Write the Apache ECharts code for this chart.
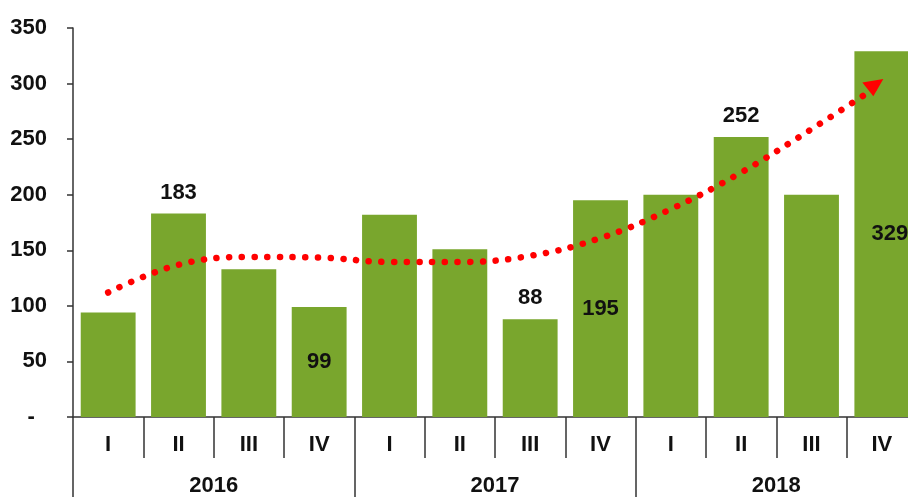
<!DOCTYPE html>
<html>
<head>
<meta charset="utf-8">
<script src="https://cdn.jsdelivr.net/npm/echarts@6/dist/echarts.min.js"></script>
<style>
  html, body { margin: 0; padding: 0; background: #fff; overflow: hidden; }
  #chart { width: 917px; height: 497px; }
</style>
</head>
<body>
<div id="chart"></div>
<script>
// data
var quarters = ['I', 'II', 'III', 'IV', 'I', 'II', 'III', 'IV', 'I', 'II', 'III', 'IV'];
var years = ['2016', '2017', '2018'];
var sales = [94, 183, 133, 99, 182, 151, 88, 195, 200, 252, 200, 329];
var trend = [112, 137, 144, 143.5, 139.5, 139.5, 145, 161, 187, 220, 259, 300];
var yMax = 350;
var yStep = 50;

// which bars carry a value label, and where
var labelAbove = [1, 6, 9];
var labelInside = [3, 7, 11];

var font = "'Liberation Sans', Arial, sans-serif";
var axisColor = '#333';

var barData = sales.map(function(v, i) {
  var item = { value: v };
  if (labelAbove.indexOf(i) >= 0) {
    item.label = { show: true, position: 'top', distance: 10 };
  } else if (labelInside.indexOf(i) >= 0) {
    item.label = { show: true, position: 'inside', offset: i === 11 ? [8, 0] : [0, 0] };
  }
  return item;
});

// arrow head at the end of the trend line (points down, as in the original)
var arrowHead = 'path://M0,4 L21,0 L11,19 Z';

var trendData = trend.map(function(v, i) {
  if (i === trend.length - 1) {
    return {
      value: v,
      symbol: arrowHead,
      symbolSize: [21, 19],
      symbolKeepAspect: true,
      symbolOffset: [-9, 4],
      itemStyle: { color: '#ff0000' }
    };
  }
  return { value: v, symbol: 'none' };
});

var chart = echarts.init(document.getElementById('chart'));

chart.setOption({
  animation: false,
  grid: { left: 73, top: 28, bottom: 80, right: 0, containLabel: false },
  xAxis: [{
    type: 'category',
    data: quarters,
    position: 'bottom',
    axisLine: { show: true, lineStyle: { color: axisColor, width: 1.5 } },
    axisTick: { show: true, interval: 0, length: 41, lineStyle: { color: axisColor, width: 1.5 } },
    axisLabel: { interval: 0, margin: 17, color: '#111', fontSize: 22, fontWeight: 'bold', fontFamily: font }
  }, {
    type: 'category',
    data: years,
    position: 'bottom',
    offset: 0,
    axisLine: { show: false },
    axisTick: { show: true, interval: 0, length: 80, lineStyle: { color: axisColor, width: 1.5 } },
    axisLabel: { interval: 0, margin: 58, color: '#111', fontSize: 22, fontWeight: 'bold', fontFamily: font }
  }],
  yAxis: {
    type: 'value',
    min: 0,
    max: yMax,
    interval: yStep,
    axisLine: { show: true, lineStyle: { color: axisColor, width: 1.5 } },
    axisTick: { show: true, length: 6, lineStyle: { color: axisColor, width: 1.5 } },
    splitLine: { show: false },
    axisLabel: {
      margin: 26,
      color: '#111',
      fontSize: 22,
      fontWeight: 'bold',
      fontFamily: font,
      formatter: function(v) { return v === 0 ? '-  ' : String(v); }
    }
  },
  series: [{
    type: 'bar',
    xAxisIndex: 0,
    data: barData,
    barCategoryGap: '22%',
    itemStyle: { color: '#79a62d' },
    label: { color: '#111', fontSize: 22, fontWeight: 'bold', fontFamily: font }
  }, {
    type: 'line',
    xAxisIndex: 0,
    data: trendData,
    smooth: 0.4,
    symbol: 'none',
    showSymbol: true,
    z: 5,
    lineStyle: { color: '#ff0000', width: 6.5, type: [0.1, 12.6], cap: 'round' }
  }]
});
</script>
</body>
</html>
